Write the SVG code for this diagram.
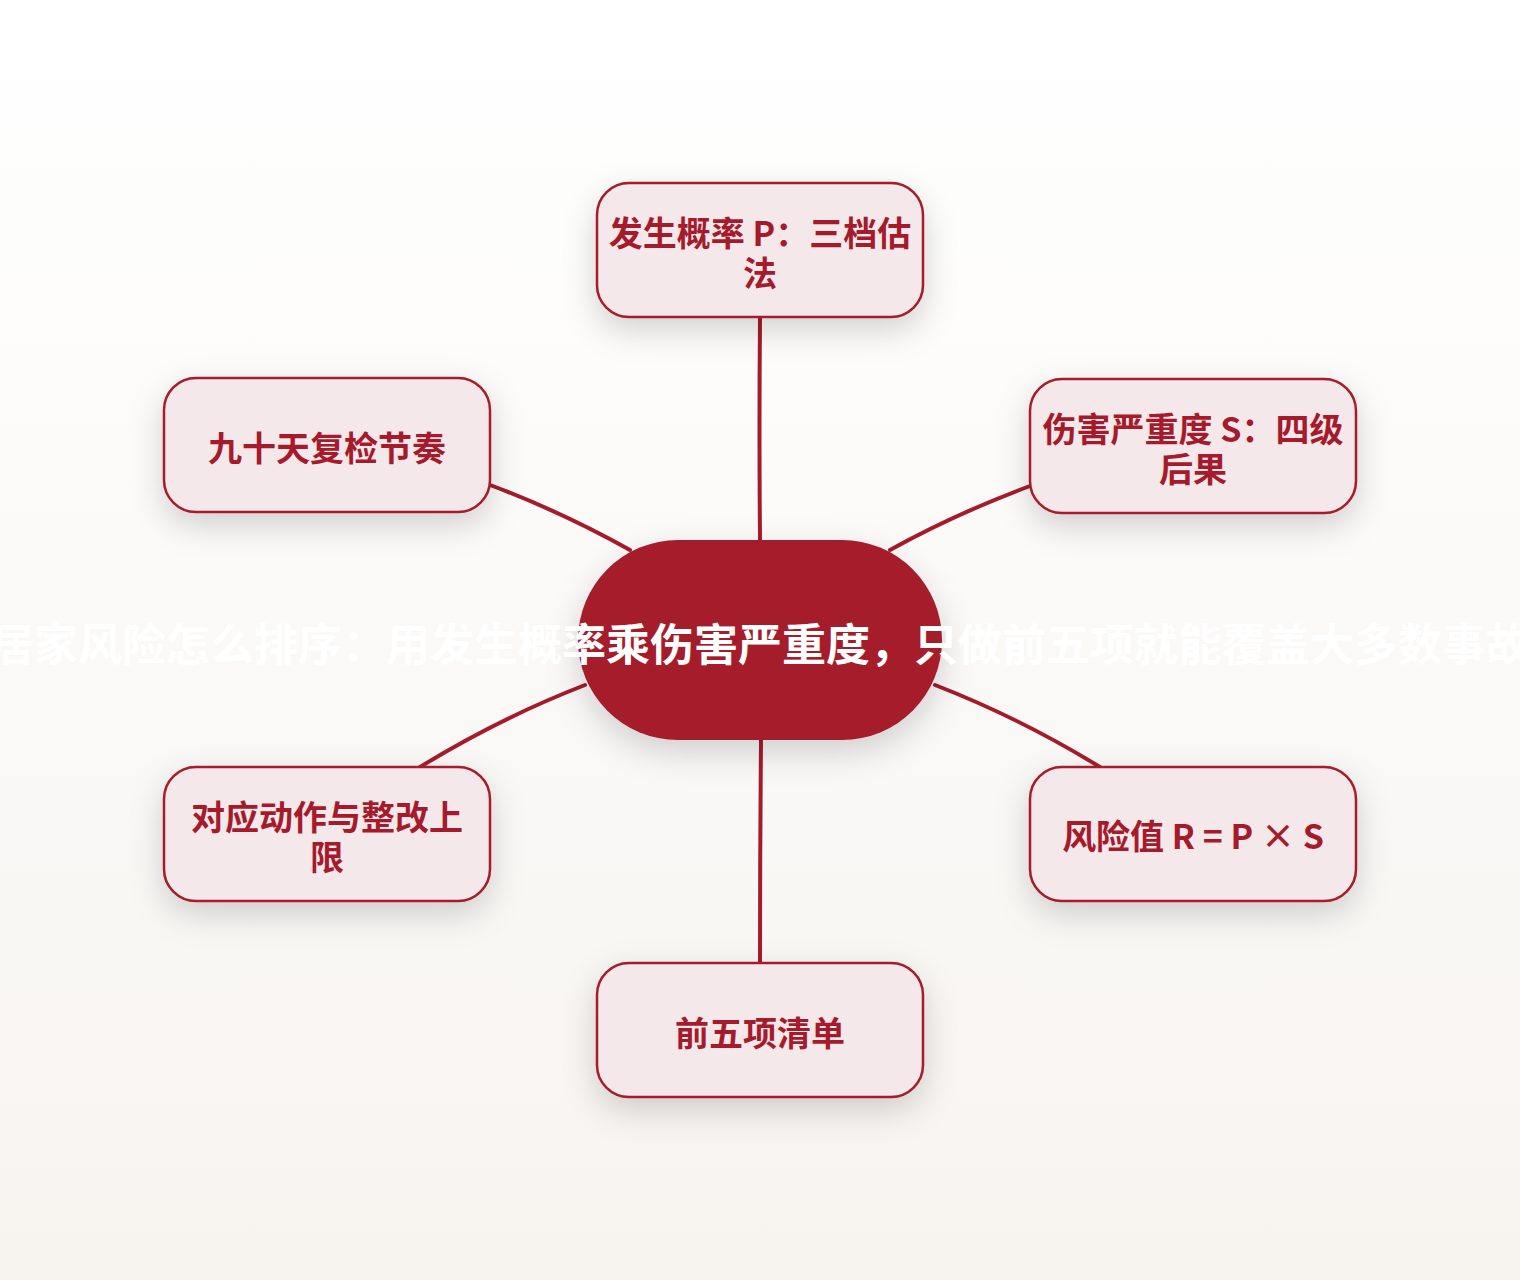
<svg xmlns="http://www.w3.org/2000/svg" width="1520" height="1280" viewBox="0 0 1520 1280">
<defs>
<linearGradient id="bg" x1="0" y1="0" x2="0" y2="1">
<stop offset="0" stop-color="#FFFFFF"/>
<stop offset="1" stop-color="#F7F4F0"/>
</linearGradient>
<filter id="sh" x="-30%" y="-30%" width="160%" height="180%">
<feDropShadow dx="0" dy="12" stdDeviation="16" flood-color="#000000" flood-opacity="0.17"/>
</filter>
<style>
.node rect{fill:#F5E8EB;stroke:#A51B2B;stroke-width:2.5;filter:url(#sh)}
.node text{font-family:"Microsoft YaHei","Noto Sans CJK SC","Noto Sans",sans-serif;font-weight:700;font-size:34px;fill:#A51B2B;text-anchor:middle;dominant-baseline:central}
.edge{fill:none;stroke:#A51B2B;stroke-width:4;stroke-linecap:round}
.center text{font-family:"Noto Sans CJK SC","Noto Sans",sans-serif;font-weight:700;font-size:44px;fill:#FFFFFF;text-anchor:middle;dominant-baseline:central}
</style>
</defs>
<rect width="1520" height="1280" fill="url(#bg)"/>
<g id="connectors">
<path class="edge" d="M760,318 Q759,430 760,540"/>
<path class="edge" d="M1030,486 Q955,514 890,550"/>
<path class="edge" d="M490,485 Q562,512 630,550"/>
<path class="edge" d="M585,685 Q500,718 420,767"/>
<path class="edge" d="M935,685 Q1020,718 1100,767"/>
<path class="edge" d="M761,740 Q760,850 760,963"/>
</g>
<g id="n1" class="node"><rect x="597" y="183" width="326" height="134" rx="32"/><text x="760" y="231">发生概率 P：三档估</text><text x="760" y="271">法</text></g>
<g id="n2" class="node"><rect x="1030" y="379" width="326" height="134" rx="32"/><text x="1193" y="427">伤害严重度 S：四级</text><text x="1193" y="467">后果</text></g>
<g id="n3" class="node"><rect x="164" y="378" width="326" height="134" rx="32"/><text x="327" y="446">九十天复检节奏</text></g>
<g id="n4" class="node"><rect x="164" y="767" width="326" height="134" rx="32"/><text x="327" y="815">对应动作与整改上</text><text x="327" y="855">限</text></g>
<g id="n5" class="node"><rect x="1030" y="767" width="326" height="134" rx="32"/><text x="1193" y="834">风险值 R = P × S</text></g>
<g id="n6" class="node"><rect x="597" y="963" width="326" height="134" rx="32"/><text x="760" y="1031">前五项清单</text></g>
<g id="center" class="center"><rect x="578" y="540" width="364" height="200" rx="100" fill="#A51B2B" filter="url(#sh)"/><text x="760" y="642">居家风险怎么排序：用发生概率乘伤害严重度，只做前五项就能覆盖大多数事故</text></g>
</svg>
